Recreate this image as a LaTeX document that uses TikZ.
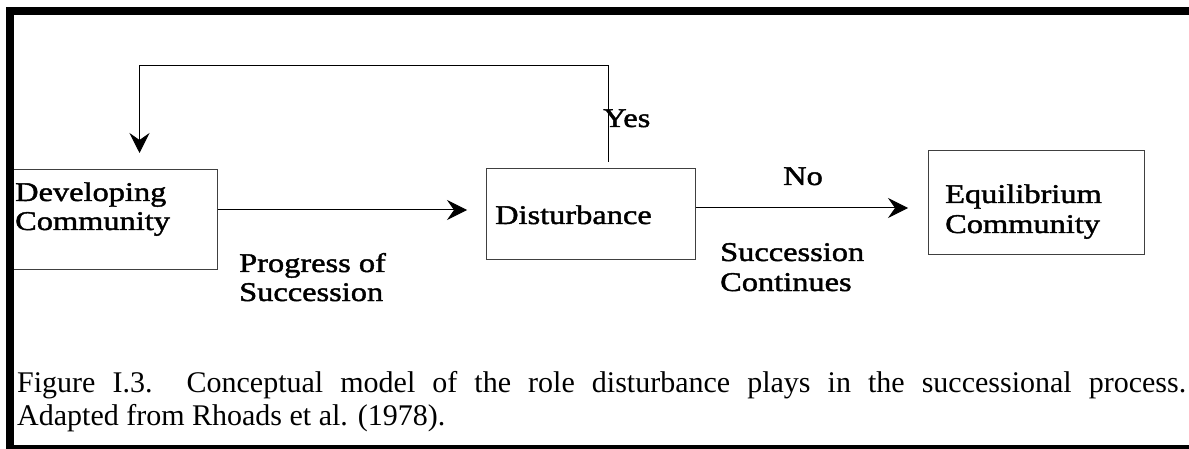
\documentclass[tikz,border=0pt]{standalone}
\usepackage{fontspec}
\setmainfont{Liberation Serif}
\newfontfamily\df[FakeStretch=1.2,FakeBold=1.6]{Liberation Serif}
\usetikzlibrary{arrows.meta}
\begin{document}
\begin{tikzpicture}[x=1pt,y=-1pt,
  box/.style={draw=black!75,line width=1pt,minimum width=#1,inner sep=0pt,rectangle},
  lbl/.style={anchor=base west,inner sep=0pt,font=\df\fontsize{27}{30}\selectfont},
  captext/.style={anchor=base west,inner sep=0pt,font=\fontsize{30}{35}\selectfont},
  arr/.style={line width=1pt,-{Stealth[length=20pt,width=20pt,inset=7pt]}},
  bar/.style={fill=black}]
\useasboundingbox (0,0) rectangle (1189,449);
% boxes
\node[box=207pt,minimum height=100pt] (dev) at (113.5,220) {};
\node[box=209pt,minimum height=91pt] (dist) at (590.5,214.5) {};
\node[box=216pt,minimum height=104pt] (eq) at (1036,203) {};
% texts
\node[lbl] (dev1) at (15,201) {Developing};
\node[lbl] (dev2) at (15,230) {Community};
\node[lbl] (prog1) at (239,272) {Progress of};
\node[lbl] (prog2) at (239,301) {Succession};
\node[lbl] (yes) at (603,127) {Yes};
\node[lbl] (distt) at (495,224) {Disturbance};
\node[lbl] (no) at (783,185) {No};
\node[lbl] (sc1) at (720,261) {Succession};
\node[lbl] (sc2) at (720,291) {Continues};
\node[lbl] (eq1) at (945,203) {Equilibrium};
\node[lbl] (eq2) at (945,233) {Community};
% connectors
\coordinate (t1) at (467,210);
\coordinate (t2) at (908,208);
\coordinate (y0) at (608,162);
\coordinate (c1) at (139.5,66);
\coordinate (t3) at (139.5,153);
\draw[arr] ([yshift=10pt]dev.east) -- (t1);
\draw[arr] ([yshift=6.5pt]dist.east) -- (t2);
\draw[arr] (y0) -- (y0 |- c1) -- (c1) -- (t3);
% caption
\node[captext] (cap1) at (17,392) {\makebox[1169pt][s]{Figure I.3.\ \ Conceptual model of the role disturbance plays in the successional process.}};
\node[captext] (cap2) at (17,425) {Adapted from Rhoads et al. (1978).};
% frame bars
\fill[bar] (6,7) rectangle (1189,15);
\fill[bar] (6,7) rectangle (14,449);
\fill[bar] (6,445) rectangle (1189,449);
\end{tikzpicture}
\end{document}
